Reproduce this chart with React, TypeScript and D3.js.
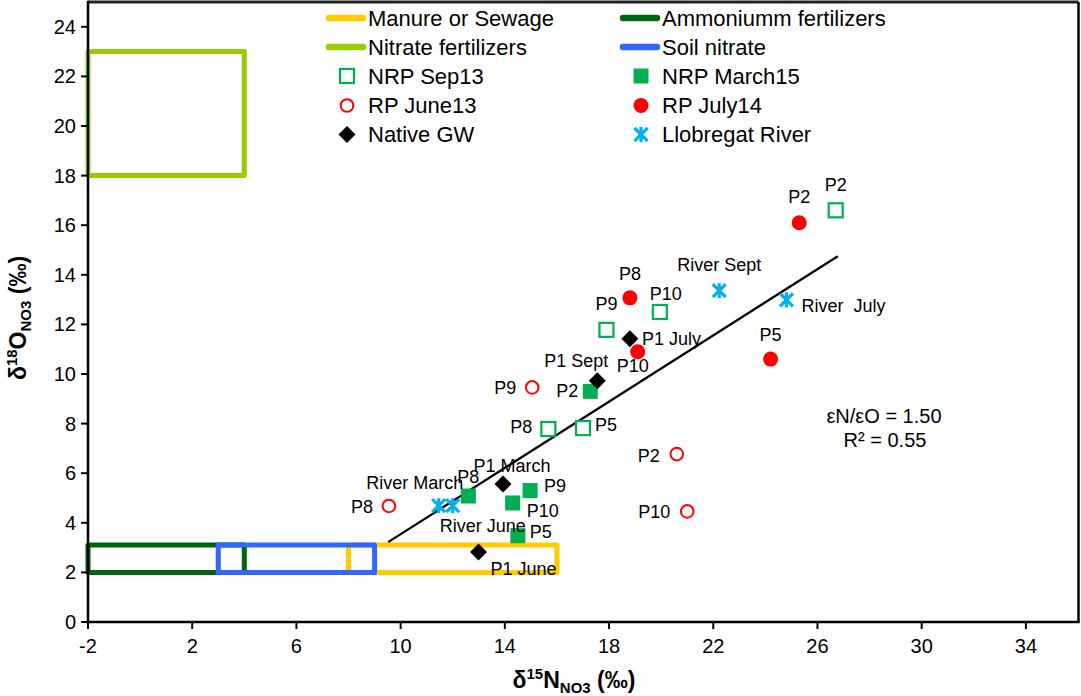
import React from "react";
import * as d3 from "d3";

// ---------- data ----------
const xTicks = [-2, 2, 6, 10, 14, 18, 22, 26, 30, 34];
const yTicks = [0, 2, 4, 6, 8, 10, 12, 14, 16, 18, 20, 22, 24];

// source boxes: [x0, x1, y0, y1]
const manureBox = [8, 16, 2, 3.1];
const ammoniumBox = [-2, 4, 2, 3.1];
const nitrateFertBox = [-2, 4, 18, 23];
const soilBox = [3, 9, 2, 3.1];

// point series: [x, y, label]
const nrpSep13: [number, number, string][] = [
  [26.7, 16.6, "P2"],
  [19.95, 12.5, "P10"],
  [17.9, 11.78, "P9"],
  [15.67, 7.78, "P8"],
  [17.0, 7.82, "P5"],
];
const nrpMarch15: [number, number, string][] = [
  [17.28, 9.3, "P2"],
  [12.6, 5.08, "P8"],
  [14.97, 5.3, "P9"],
  [14.3, 4.8, "P10"],
  [14.5, 3.48, "P5"],
];
const rpJune13: [number, number, string][] = [
  [9.55, 4.68, "P8"],
  [15.05, 9.46, "P9"],
  [20.6, 6.77, "P2"],
  [21.0, 4.46, "P10"],
];
const rpJuly14: [number, number, string][] = [
  [25.3, 16.1, "P2"],
  [18.8, 13.07, "P8"],
  [19.1, 10.9, "P10"],
  [24.2, 10.6, "P5"],
];
const nativeGW: [number, number, string][] = [
  [18.8, 11.42, "P1 July"],
  [17.55, 9.73, "P1 Sept"],
  [13.93, 5.56, "P1 March"],
  [12.99, 2.82, "P1 June"],
];
const river: [number, number, string][] = [
  [11.46, 4.69, "River March"],
  [12.0, 4.69, "River June"],
  [22.23, 13.36, "River Sept"],
  [24.81, 12.99, "River  July"],
];

const trendLine: [number, number][] = [
  [9.52, 3.22],
  [26.78, 14.75],
];

// label placement (pixel offsets from marker): [dx, dy, anchor]
type Lab = [number, number, string];
const nrpSep13Lab: Lab[] = [[0, -19.5, "middle"], [6, -12.5, "middle"], [0, -19.5, "middle"], [-16, 3.5, "end"], [12, 2.5, "start"]];
const nrpMarch15Lab: Lab[] = [[-12, 5.5, "end"], [0, -13.5, "middle"], [14, 1.5, "start"], [30, 14.5, "middle"], [12, 2.5, "start"]];
const rpJune13Lab: Lab[] = [[-16, 7.5, "end"], [-16, 6.5, "end"], [-17, 7.5, "end"], [-17, 6.5, "end"]];
const rpJuly14Lab: Lab[] = [[0, -19.5, "middle"], [0, -17.5, "middle"], [-5, 20.5, "middle"], [0, -18.5, "middle"]];
const nativeGWLab: Lab[] = [[12, 6.5, "start"], [-21, -13.5, "middle"], [9, -12.5, "middle"], [45, 22.5, "middle"]];
const riverLab: Lab[] = [[-24, -16.5, "middle"], [30, 26.5, "middle"], [0, -19.5, "middle"], [15, 12.5, "start"]];

const legendLines = [
  { name: "Manure or Sewage", color: "#FFCC00" },
  { name: "Ammoniumm fertilizers", color: "#006411" },
  { name: "Nitrate fertilizers", color: "#99CC00" },
  { name: "Soil nitrate", color: "#3366FF" },
];
const legendMarkers = [
  { name: "NRP Sep13", kind: "openSquare" },
  { name: "NRP March15", kind: "square" },
  { name: "RP June13", kind: "openCircle" },
  { name: "RP July14", kind: "circle" },
  { name: "Native GW", kind: "diamond" },
  { name: "Llobregat River", kind: "star" },
];

// ---------- layout ----------
const W = 1081;
const H = 696;
const FONT = "'Liberation Sans', Arial, Helvetica, sans-serif";
const GREEN = "#00B050";
const RED = "#FF0000";
const CYAN = "#00B0F0";

const x = d3.scaleLinear().domain([-2, 36]).range([88, 1078]);
const y = d3.scaleLinear().domain([0, 25]).range([622, 2]);

function Marker({ kind, cx, cy }: { kind: string; cx: number; cy: number }) {
  switch (kind) {
    case "openSquare":
      return <rect x={cx - 7} y={cy - 7} width={14} height={14} fill="white" stroke={GREEN} strokeWidth={2.2} />;
    case "square":
      return <rect x={cx - 7.5} y={cy - 7.5} width={15} height={15} fill={GREEN} />;
    case "openCircle":
      return <circle cx={cx} cy={cy} r={6.3} fill="white" stroke={RED} strokeWidth={2} />;
    case "circle":
      return <circle cx={cx} cy={cy} r={7.5} fill={RED} />;
    case "diamond":
      return <path d={`M${cx},${cy - 8.5}L${cx + 8.5},${cy}L${cx},${cy + 8.5}L${cx - 8.5},${cy}Z`} fill="black" />;
    case "star": {
      const s = 6.5;
      return (
        <g stroke={CYAN} strokeWidth={3.2} strokeLinecap="butt">
          <line x1={cx - s} y1={cy - s} x2={cx + s} y2={cy + s} />
          <line x1={cx - s} y1={cy + s} x2={cx + s} y2={cy - s} />
          <line x1={cx} y1={cy - s - 1} x2={cx} y2={cy + s + 1} />
        </g>
      );
    }
  }
  return null;
}

function Series({ data, labs, kind }: { data: [number, number, string][]; labs: Lab[]; kind: string }) {
  return (
    <g>
      {data.map((d, i) => (
        <Marker key={"m" + i} kind={kind} cx={x(d[0])} cy={y(d[1])} />
      ))}
      {data.map((d, i) => (
        <text
          key={"t" + i}
          x={x(d[0]) + labs[i][0]}
          y={y(d[1]) + labs[i][1]}
          textAnchor={labs[i][2] as any}
          fontSize={18}
          style={{ whiteSpace: "pre" }}
        >
          {d[2]}
        </text>
      ))}
    </g>
  );
}

function Box({ b, color }: { b: number[]; color: string }) {
  const x0 = x(b[0]);
  const x1 = x(b[1]);
  const y0 = y(b[3]);
  const y1 = y(b[2]);
  return <rect x={x0} y={y0} width={x1 - x0} height={y1 - y0} fill="none" stroke={color} strokeWidth={5} strokeLinejoin="round" />;
}

export default function App() {
  const line = d3
    .line<[number, number]>()
    .x((d) => x(d[0]))
    .y((d) => y(d[1]));

  const legX = [326, 620];
  const legRowY = [18, 47, 76, 105.5, 134.5];

  return (
    <svg
      width={W}
      height={H}
      style={{ position: "absolute", left: 0, top: 0, background: "white" }}
      fontFamily={FONT}
    >
      <rect width={W} height={H} fill="white" />

      {/* source boxes */}
      <Box b={nitrateFertBox} color="#99CC00" />
      <Box b={ammoniumBox} color="#006411" />
      <Box b={manureBox} color="#FFCC00" />
      <Box b={soilBox} color="#3366FF" />

      {/* frame */}
      <line x1={88} y1={2} x2={1078.5} y2={2} stroke="#222" strokeWidth={3} />
      <line x1={1078.5} y1={2} x2={1078.5} y2={622} stroke="black" strokeWidth={2.5} />

      {/* trend line */}
      <path d={line(trendLine) || ""} stroke="black" strokeWidth={2.2} fill="none" />

      {/* series */}
      <Series data={nrpSep13} labs={nrpSep13Lab} kind="openSquare" />
      <Series data={nrpMarch15} labs={nrpMarch15Lab} kind="square" />
      <Series data={rpJune13} labs={rpJune13Lab} kind="openCircle" />
      <Series data={rpJuly14} labs={rpJuly14Lab} kind="circle" />
      <Series data={river} labs={riverLab} kind="star" />
      <Series data={nativeGW} labs={nativeGWLab} kind="diamond" />

      {/* axes */}
      <line x1={88} y1={0.8} x2={88} y2={623.3} stroke="black" strokeWidth={2.5} />
      <line x1={86.8} y1={622} x2={1079.7} y2={622} stroke="black" strokeWidth={2.5} />
      {yTicks.map((t) => (
        <g key={"y" + t}>
          <line x1={81} x2={88} y1={y(t)} y2={y(t)} stroke="black" strokeWidth={2} />
          <text x={76} y={y(t) + 7} textAnchor="end" fontSize={20}>
            {t}
          </text>
        </g>
      ))}
      {xTicks.map((t) => (
        <g key={"x" + t}>
          <line x1={x(t)} x2={x(t)} y1={622} y2={629} stroke="black" strokeWidth={2} />
          <text x={x(t)} y={653} textAnchor="middle" fontSize={20}>
            {t}
          </text>
        </g>
      ))}

      {/* axis titles */}
      <text x={574} y={688} textAnchor="middle" fontSize={23} fontWeight="bold">
        δ<tspan fontSize={15} dy={-9}>15</tspan>
        <tspan dy={9}>N</tspan>
        <tspan fontSize={15} dy={5}>NO3</tspan>
        <tspan dy={-5}> (‰)</tspan>
      </text>
      <text transform="translate(26,318) rotate(-90)" textAnchor="middle" fontSize={23} fontWeight="bold">
        δ<tspan fontSize={15} dy={-9}>18</tspan>
        <tspan dy={9}>O</tspan>
        <tspan fontSize={15} dy={5}>NO3</tspan>
        <tspan dy={-5}> (‰)</tspan>
      </text>

      {/* annotation */}
      <text x={884} y={423} textAnchor="middle" fontSize={20}>
        εN/εO = 1.50
      </text>
      <text x={885} y={447} textAnchor="middle" fontSize={20}>
        R² = 0.55
      </text>

      {/* legend */}
      {legendLines.map((l, i) => {
        const col = i % 2;
        const row = Math.floor(i / 2);
        const lx = legX[col];
        const ly = legRowY[row];
        return (
          <g key={"ll" + i}>
            <line x1={lx + 3} x2={lx + 37} y1={ly} y2={ly} stroke={l.color} strokeWidth={6.5} strokeLinecap="round" />
            <text x={lx + 42} y={ly + 7.5} fontSize={22}>
              {l.name}
            </text>
          </g>
        );
      })}
      {legendMarkers.map((m, i) => {
        const col = i % 2;
        const row = 2 + Math.floor(i / 2);
        const lx = legX[col];
        const ly = legRowY[row];
        return (
          <g key={"lm" + i}>
            <Marker kind={m.kind} cx={lx + 21} cy={ly} />
            <text x={lx + 42} y={ly + 7.5} fontSize={22}>
              {m.name}
            </text>
          </g>
        );
      })}
    </svg>
  );
}
